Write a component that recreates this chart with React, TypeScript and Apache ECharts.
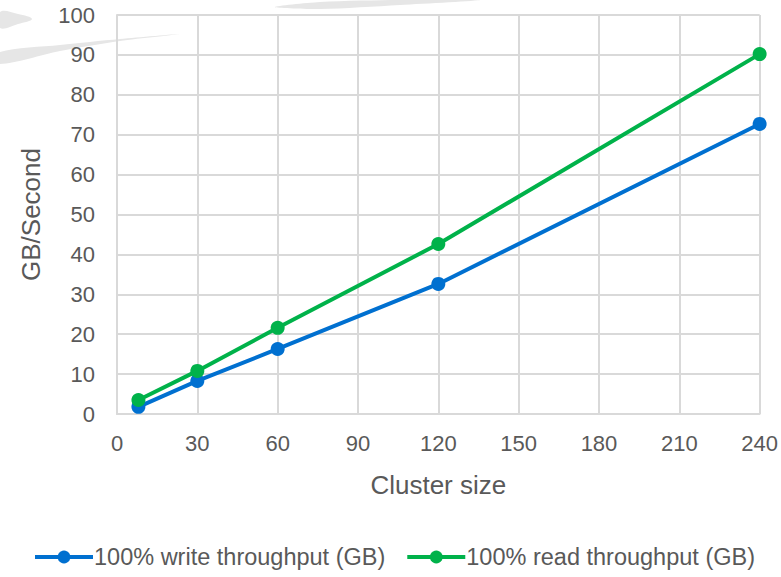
import React, { useEffect, useRef } from "react";
import * as echarts from "echarts";

const clusterSizes = [8, 30, 60, 120, 240];
const writeThroughput = [1.8, 8.3, 16.3, 32.6, 72.7];
const readThroughput = [3.5, 10.8, 21.6, 42.6, 90.2];
const seriesNames = ["100% write throughput (GB)", "100% read throughput (GB)"];

const FONT = "'Liberation Sans', Arial, Helvetica, sans-serif";

export default function App() {
  const ref = useRef<HTMLDivElement>(null);
  useEffect(() => {
    if (!ref.current) return;
    const chart = echarts.init(ref.current, null, { renderer: "svg" });
    const grey = "#e6e6e6";
    chart.setOption({
      animation: false,
      backgroundColor: "#ffffff",
      textStyle: { fontFamily: FONT },
      graphic: [
        {
          type: "polygon",
          silent: true,
          z: -10,
          shape: { points: [[0, 12], [18, 14], [32, 19], [18, 24], [0, 28]], smooth: 0.4 },
          style: { fill: grey },
        },
        {
          type: "polygon",
          silent: true,
          z: -10,
          shape: { points: [[0, 52], [60, 45], [120, 39], [180, 34], [120, 41], [60, 51], [0, 64]], smooth: 0.3 },
          style: { fill: grey },
        },
        {
          type: "polygon",
          silent: true,
          z: -10,
          shape: { points: [[275, 7], [320, 2], [400, 0], [480, 0], [400, 5], [320, 9]], smooth: 0.3 },
          style: { fill: grey },
        },
      ],
      grid: { left: 117, right: 21, top: 15, bottom: 163, containLabel: false },
      legend: {
        bottom: 3,
        left: 28,
        itemWidth: 58,
        itemHeight: 16,
        itemGap: 20,
        lineStyle: { width: 4 },
        textStyle: { fontSize: 23.5, color: "#595959", fontFamily: FONT, padding: [0, 0, 0, -4] },
        data: seriesNames,
      },
      xAxis: {
        type: "value",
        min: 0,
        max: 240,
        interval: 30,
        name: "Cluster size",
        nameLocation: "middle",
        nameGap: 58,
        nameTextStyle: { fontSize: 26, color: "#595959", fontFamily: FONT },
        axisLine: { show: true, lineStyle: { color: "#d9d9d9", width: 2 } },
        axisTick: { show: false },
        axisLabel: { fontSize: 22, color: "#595959", margin: 18, fontFamily: FONT },
        splitLine: { show: true, lineStyle: { color: "#d9d9d9", width: 2 } },
      },
      yAxis: {
        type: "value",
        min: 0,
        max: 100,
        interval: 10,
        name: "GB/Second",
        nameLocation: "middle",
        nameGap: 73,
        nameTextStyle: { fontSize: 26, color: "#595959", fontFamily: FONT },
        axisLine: { show: true, lineStyle: { color: "#d9d9d9", width: 2 } },
        axisTick: { show: false },
        axisLabel: { fontSize: 22, color: "#595959", margin: 22, fontFamily: FONT },
        splitLine: { show: true, lineStyle: { color: "#d9d9d9", width: 2 } },
      },
      series: [
        {
          name: seriesNames[0],
          type: "line",
          data: clusterSizes.map((x, i) => [x, writeThroughput[i]]),
          symbol: "circle",
          symbolSize: 14,
          itemStyle: { color: "#0070d0" },
          lineStyle: { color: "#0070d0", width: 4 },
        },
        {
          name: seriesNames[1],
          type: "line",
          data: clusterSizes.map((x, i) => [x, readThroughput[i]]),
          symbol: "circle",
          symbolSize: 14,
          itemStyle: { color: "#00b24a" },
          lineStyle: { color: "#00b24a", width: 4 },
        },
      ],
    });
    return () => chart.dispose();
  }, []);
  return (
    <div
      ref={ref}
      style={{ position: "fixed", left: 0, top: 0, width: 781, height: 577 }}
    />
  );
}
